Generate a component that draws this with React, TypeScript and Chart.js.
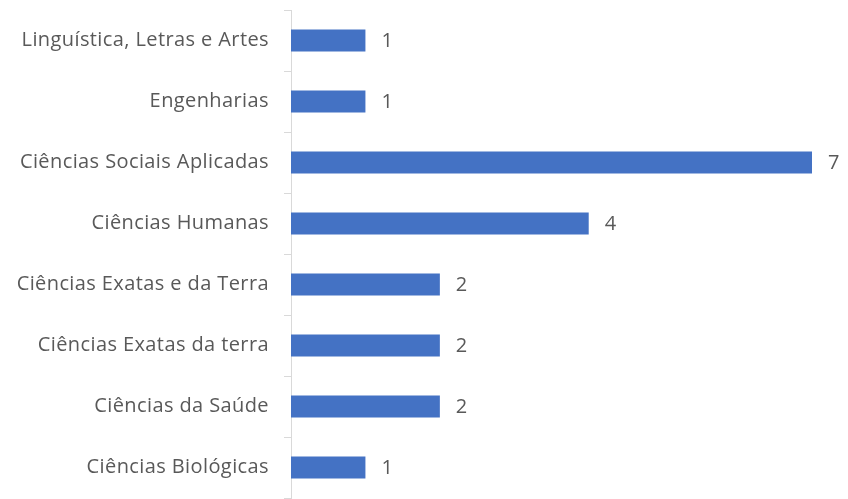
import React, { useEffect, useRef } from "react";
import { Chart, registerables } from "chart.js";

Chart.register(...registerables);

const categories = [
  "Linguística, Letras e Artes",
  "Engenharias",
  "Ciências Sociais Aplicadas",
  "Ciências Humanas",
  "Ciências Exatas e da Terra",
  "Ciências Exatas da terra",
  "Ciências da Saúde",
  "Ciências Biológicas",
];
const values = [1, 1, 7, 4, 2, 2, 2, 1];

const FONT = "'Open Sans'";
const TEXT_COLOR = "#595959";

const spacing = {
  id: "spacing",
  beforeDraw(chart: any) {
    (chart.ctx as any).letterSpacing = "0.4px";
  },
};

const valueLabels = {
  id: "valueLabels",
  afterDatasetsDraw(chart: any) {
    const ctx = chart.ctx;
    const meta = chart.getDatasetMeta(0);
    ctx.save();
    ctx.font = `20px ${FONT}`;
    ctx.fillStyle = TEXT_COLOR;
    ctx.textAlign = "left";
    ctx.textBaseline = "middle";
    meta.data.forEach((bar: any, i: number) => {
      ctx.fillText(String(values[i]), bar.x + 16, bar.y + 1);
    });
    ctx.restore();
  },
};

export default function App() {
  const ref = useRef<HTMLCanvasElement>(null);
  useEffect(() => {
    if (!ref.current) return;
    const chart = new Chart(ref.current, {
      type: "bar",
      data: {
        labels: categories,
        datasets: [
          {
            data: values,
            backgroundColor: "#4472c4",
            barPercentage: 0.36,
            categoryPercentage: 1,
          },
        ],
      },
      options: {
        indexAxis: "y",
        animation: false,
        responsive: false,
        maintainAspectRatio: false,
        layout: { padding: { top: 10, right: 36, bottom: 1, left: 0 } },
        plugins: {
          legend: { display: false },
          tooltip: { enabled: false },
        },
        scales: {
          x: { display: false, min: 0, max: 7 },
          y: {
            afterFit(scale: any) {
              scale.width = 291;
              scale.paddingTop = 0;
              scale.paddingBottom = 0;
            },
            border: { display: true, color: "#d9d9d9", width: 1 },
            grid: {
              display: true,
              drawOnChartArea: false,
              color: "#d9d9d9",
              tickLength: 7,
              offset: true,
            },
            ticks: {
              color: TEXT_COLOR,
              padding: 15,
              font: { family: FONT, size: 20 },
            },
          },
        },
      },
      plugins: [spacing, valueLabels],
    });
    return () => chart.destroy();
  }, []);
  return (
    <div style={{ position: "fixed", left: 0, top: 0, width: 848, height: 499, background: "#fff" }}>
      <canvas ref={ref} width={848} height={499} style={{ width: 848, height: 499 }} />
    </div>
  );
}
